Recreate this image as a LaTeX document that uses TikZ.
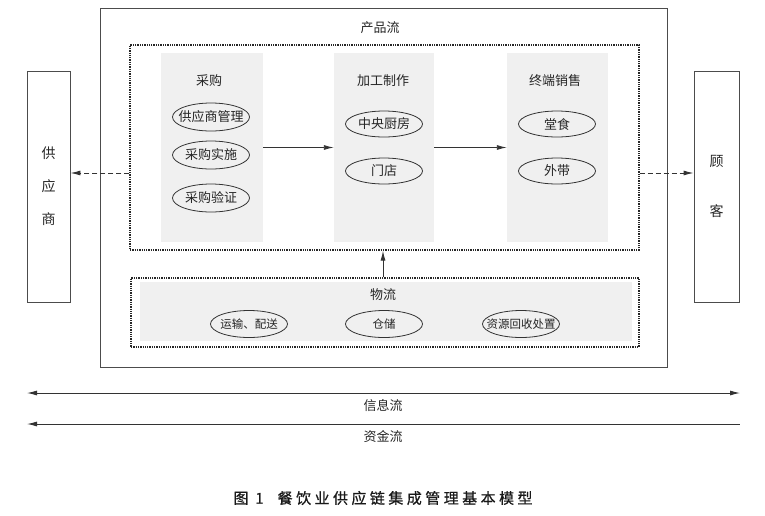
\documentclass[tikz,border=0pt]{standalone}
\usepackage{fontspec}
\setmainfont{Noto Sans CJK SC}
\newfontfamily\capfont[LetterSpace=23,FakeBold=0.7]{Noto Sans CJK SC}
\usetikzlibrary{shapes.geometric,arrows.meta}
\newcommand\zwtext[1]{\makebox[0pt]{#1}}
\begin{document}
\begin{tikzpicture}[x=1pt,y=-1pt,
  every node/.style={font=\fontsize{13}{15}\selectfont, text=black!85},
  rbox/.style={draw=black!70, line width=0.9pt, inner sep=0pt},
  dotbox/.style={draw=black!85, line width=1.3pt, densely dotted, inner sep=0pt},
  colbg/.style={fill=black!6, draw=none, inner sep=0pt},
  ell/.style={ellipse, draw=black!80, line width=0.8pt, minimum width=77pt, minimum height=28pt, inner sep=0pt},
  lell/.style={ell, minimum height=27pt, font=\fontsize{11.5}{14}\selectfont},
  tip/.style={-{Latex[length=10pt,width=5pt]}, draw=black!80, line width=0.9pt},
  dtip/.style={tip, dashed, dash pattern=on 5pt off 3pt},
]
\useasboundingbox (0,0) rectangle (765,515);
% outer box
\node[rbox, minimum width=567pt, minimum height=359pt] (outer) at (383.5,187.5) {};
\node (pflow) at (380,28) {产品流};
% inner product box
\node[dotbox, minimum width=509pt, minimum height=205pt] (inner) at (384.5,147.5) {};
\node[colbg, minimum width=102pt, minimum height=189pt] (col1) at (212,147.5) {};
\node[colbg, minimum width=100pt, minimum height=189pt] (col2) at (384,147.5) {};
\node[colbg, minimum width=101pt, minimum height=189pt] (col3) at (557.5,147.5) {};
\node (t1) at (209,81) {采购};
\node (t2) at (383,81) {加工制作};
\node (t3) at (555,81) {终端销售};
\node[ell] (e11) at (211,117) {\zwtext{供应商管理}};
\node[ell] (e12) at (211,155) {\zwtext{采购实施}};
\node[ell] (e13) at (211,198) {\zwtext{采购验证}};
\node[ell, minimum height=26pt] (e21) at (384,124) {\zwtext{中央厨房}};
\node[ell, minimum height=26pt] (e22) at (384,171) {\zwtext{门店}};
\node[ell, minimum height=26pt] (e31) at (557,124) {\zwtext{堂食}};
\node[ell, minimum height=26pt] (e32) at (557,171) {\zwtext{外带}};
\draw[tip] (col1.east) -- (col2.west);
\draw[tip] (col2.east) -- (col3.west);
% logistics box
\node[dotbox, minimum width=508pt, minimum height=69pt] (log) at (385,312.5) {};
\node[colbg, minimum width=492pt, minimum height=59pt] (logbg) at (386,311.5) {};
\node (t4) at (383,295) {物流};
\node[lell] (e41) at (249,324) {\zwtext{运输、配送}};
\node[lell] (e42) at (384,324) {\zwtext{仓储}};
\node[lell] (e43) at (521,324) {\zwtext{资源回收处置}};
\draw[tip] (log.north -| t4) -- (inner.south -| t4);
% side boxes
\node[rbox, minimum width=43pt, minimum height=231pt, align=center,
  font=\fontsize{14}{33}\selectfont] (sup) at (48.5,186.5) {供\\应\\商};
\node[rbox, minimum width=45pt, minimum height=231pt, align=center,
  font=\fontsize{14}{50}\selectfont] (cust) at (716.5,186.5) {顾\\客};
\coordinate (dl) at ([yshift=-25.5pt]inner.west);
\coordinate (dr) at ([yshift=-25.5pt]inner.east);
\draw[dtip] (dl) -- (dl -| sup.east);
\draw[dtip] (dr) -- (dr -| cust.west);
% info and funds flows
\coordinate (i1) at (27,393);
\coordinate (i2) at (740,393);
\coordinate (f1) at (27,424);
\coordinate (f2) at (740,424);
\draw[tip, {Latex[length=10pt,width=5pt]}-{Latex[length=10pt,width=5pt]}] (i1) -- (i2);
\draw[tip, {Latex[length=10pt,width=5pt]}-] (f1) -- (f2);
\node (t5) at (383,406) {信息流};
\node (t6) at (383,437) {资金流};
% caption
\node[anchor=west, font=\capfont\fontsize{15}{18}\selectfont, text=black!90] (cap) at (230,498) {图 1\hspace{14pt}餐饮业供应链集成管理基本模型};
\end{tikzpicture}
\end{document}
